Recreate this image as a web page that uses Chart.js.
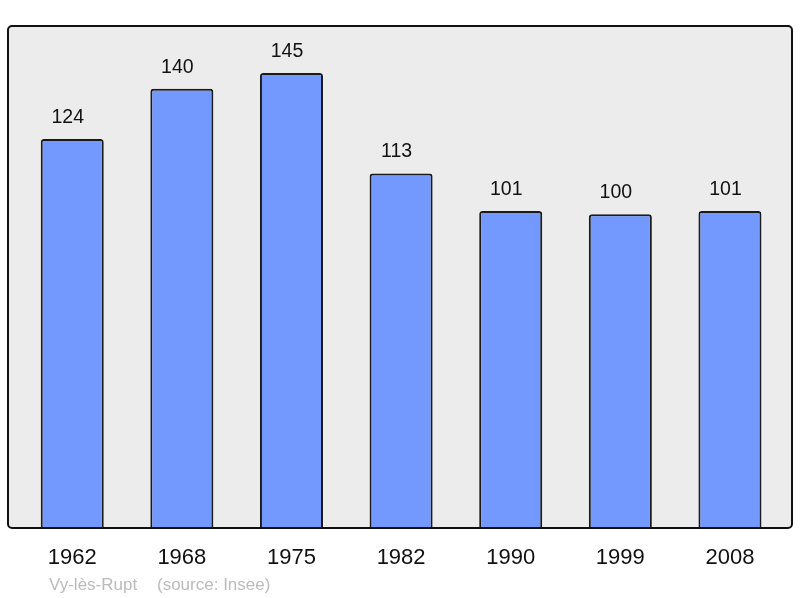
<!DOCTYPE html>
<html>
<head>
<meta charset="utf-8">
<script src="https://cdn.jsdelivr.net/npm/chart.js@4/dist/chart.umd.min.js"></script>
<style>
html,body{margin:0;padding:0;background:#fff;}
#wrap{position:relative;width:800px;height:598px;}
canvas{display:block;}
</style>
</head>
<body>
<div id="wrap"><canvas id="c" width="800" height="598"></canvas></div>
<script>
const years = ["1962","1968","1975","1982","1990","1999","2008"];
const population = [124,140,145,113,101,100,101];
const footerPlace = "Vy-lès-Rupt";
const footerSource = "(source: Insee)";

const points = population.map((v,i)=>({x:i,y:v}));

const framePlugin = {
  id:'frame',
  beforeDraw(chart){
    const {ctx, chartArea:a} = chart;
    ctx.save();
    ctx.beginPath();
    ctx.roundRect(a.left, a.top, a.right-a.left, a.bottom-a.top, 4);
    ctx.fillStyle = '#ececec';
    ctx.fill();
    ctx.restore();
  },
  afterDatasetsDraw(chart){
    const {ctx, chartArea:a} = chart;
    ctx.save();
    ctx.beginPath();
    ctx.roundRect(a.left, a.top, a.right-a.left, a.bottom-a.top, 4);
    ctx.lineWidth = 2;
    ctx.strokeStyle = '#111';
    ctx.stroke();
    const meta = chart.getDatasetMeta(0);
    ctx.fillStyle = '#111';
    ctx.font = '19.5px "Liberation Sans", Arial, sans-serif';
    ctx.textAlign = 'center';
    ctx.textBaseline = 'alphabetic';
    meta.data.forEach((el,i)=>{
      ctx.fillText(String(population[i]), el.x - 4.5, el.y - 16);
    });
    ctx.fillStyle = '#bbbbbb';
    ctx.font = '17px "Liberation Sans", Arial, sans-serif';
    ctx.textAlign = 'left';
    ctx.fillText(footerPlace, 49, 590);
    ctx.fillText(footerSource, 157, 590);
    ctx.restore();
  }
};

new Chart(document.getElementById('c'), {
  type:'bar',
  data:{
    datasets:[{
      data: points,
      backgroundColor:'#7399ff',
      borderColor:'#1a1a1a',
      borderWidth:2,
      borderRadius:3,
      categoryPercentage:1,
      barPercentage:0.575
    }]
  },
  options:{
    responsive:false,
    animation:false,
    layout:{padding:{left:8,right:8,top:26,bottom:0}},
    plugins:{legend:{display:false},tooltip:{enabled:false}},
    scales:{
      x:{
        type:'linear',
        offset:false,
        min:-0.586,
        max:6.566,
        grid:{display:false},
        border:{display:false},
        afterFit(s){ s.height = 70; },
        ticks:{
          stepSize:1,
          includeBounds:false,
          autoSkip:false,
          maxRotation:0,
          padding:9,
          color:'#111',
          font:{family:'"Liberation Sans", Arial, sans-serif', size:22},
          callback:(v)=> Number.isInteger(v) && years[v] ? years[v] : ''
        }
      },
      y:{
        display:false,
        min:0,
        max:160
      }
    }
  },
  plugins:[framePlugin]
});
</script>
</body>
</html>
